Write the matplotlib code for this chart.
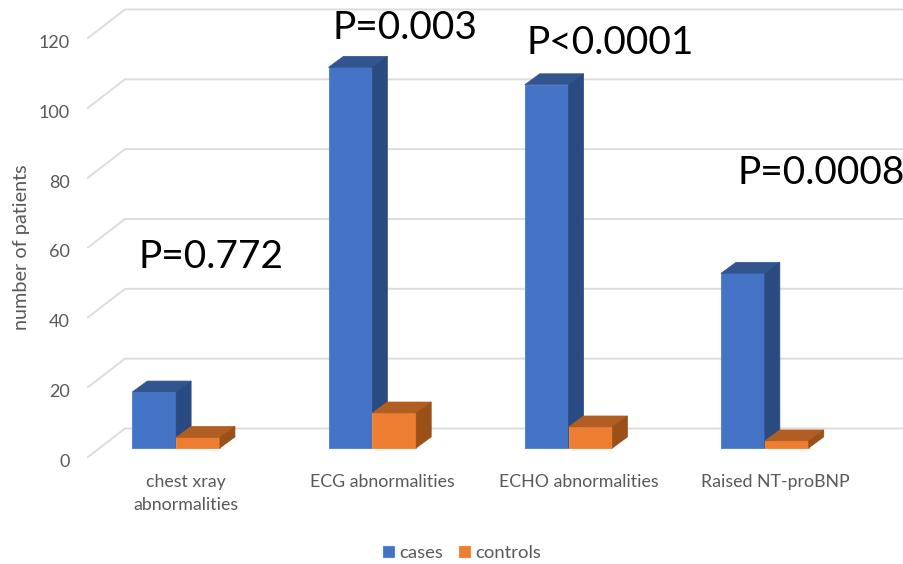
import matplotlib
matplotlib.use('Agg')
import matplotlib.pyplot as plt
from matplotlib.patches import Polygon
from matplotlib.transforms import ScaledTranslation

plt.rcParams['font.family'] = ['Lato', 'DejaVu Sans']

categories = ['chest xray\nabnormalities', 'ECG abnormalities', 'ECHO abnormalities', 'Raised NT-proBNP']
cases = [16, 109, 104, 50]
controls = [3, 10, 6, 2]
y_ticks = [0, 20, 40, 60, 80, 100, 120]
p_labels = ['P=0.772', 'P=0.003', 'P<0.0001', 'P=0.0008']
p_x = [-0.245, 0.746, 1.732, 2.808]
p_y = [54.2, 119.8, 115.5, 78.3]

# pseudo 3d settings, all in data units
BAR_W = 0.2235
GROUP_SHIFT = -0.051
BASE = 2.6
DEPTH_X = 0.0764
DEPTH_Y = 3.15
WALL_X = 0.1885
WALL_Y = 8.17
X_MIN, X_MAX = -0.5, 3.658

fig = plt.figure(figsize=(9.04, 5.64), dpi=100)
ax = fig.add_axes([88 / 904, (564 - 457) / 564, (904 - 88) / 904, (457 - 38) / 564])
ax.set_xlim(X_MIN, X_MAX)
ax.set_ylim(0, 120)


def draw_bars(xs, values, color, top_color, side_color, edge, label):
    bars = ax.bar(xs, values, BAR_W, bottom=BASE, align='edge', color=color,
                  edgecolor=edge, linewidth=0.8, label=label, zorder=3, clip_on=False)
    for x, v in zip(xs, values):
        x2 = x + BAR_W
        top = BASE + v
        ax.add_patch(Polygon([(x, top), (x + DEPTH_X, top + DEPTH_Y), (x2 + DEPTH_X, top + DEPTH_Y), (x2, top)],
                             facecolor=top_color, edgecolor=top_color, linewidth=0.5, zorder=3, clip_on=False))
        ax.add_patch(Polygon([(x2, BASE), (x2 + DEPTH_X, BASE + DEPTH_Y), (x2 + DEPTH_X, top + DEPTH_Y), (x2, top)],
                             facecolor=side_color, edgecolor=side_color, linewidth=0.5, zorder=3, clip_on=False))
    return bars


# gridlines run along the side wall and then across the back wall
for v in y_ticks:
    ax.plot([X_MIN, X_MIN + WALL_X, X_MAX], [v, v + WALL_Y, v + WALL_Y],
            color='#dddddd', lw=1.4, clip_on=False, zorder=1)

positions = list(range(len(categories)))
case_x = [p + GROUP_SHIFT - BAR_W for p in positions]
control_x = [p + GROUP_SHIFT for p in positions]
h1 = draw_bars(case_x, cases, '#4472c4', '#32558f', '#2a4a82', '#5b86d0', 'cases')
h2 = draw_bars(control_x, controls, '#ed7d31', '#b25d22', '#9a5018', '#f08a42', 'controls')

for s in ax.spines.values():
    s.set_visible(False)
ax.patch.set_alpha(0)

ax.set_yticks(y_ticks)
ax.set_xticks(positions)
ax.set_xticklabels(categories, fontsize=12.8, color='#595959', linespacing=1.55)
ax.tick_params(axis='y', length=0, pad=13, labelsize=13, labelcolor='#595959')
ax.tick_params(axis='x', length=0, pad=12)
# nudge the value labels down a little so they sit level with the wall lines
nudge = ScaledTranslation(0, -2.5 / 72, fig.dpi_scale_trans)
for lab in ax.get_yticklabels():
    lab.set_transform(lab.get_transform() + nudge)
ax.set_ylabel('number of patients', fontsize=14.3, color='#595959', labelpad=6)

for t, x, y in zip(p_labels, p_x, p_y):
    ax.text(x, y, t, fontsize=28, color='black', ha='left', va='baseline', zorder=5, clip_on=False)

fig.legend(handles=[h1, h2], loc='center', bbox_to_anchor=(462 / 904, (564 - 553) / 564), ncol=2,
           frameon=False, fontsize=13.3, labelcolor='#595959', handlelength=0.6, handleheight=0.6,
           handletextpad=0.25, columnspacing=0.9, borderpad=0)

fig.savefig('out.png', dpi=100)
